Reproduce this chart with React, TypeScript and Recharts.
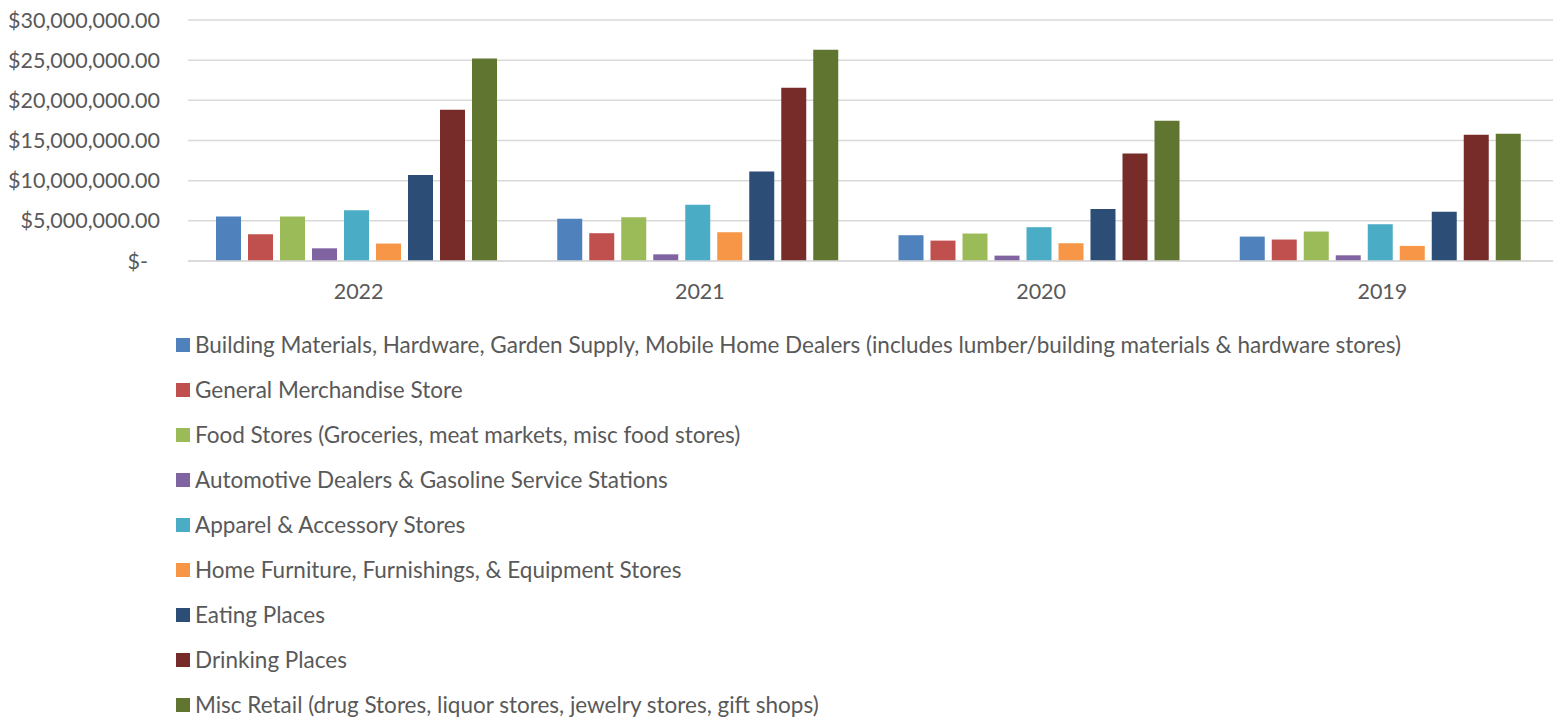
import React from "react";
import { BarChart, Bar, XAxis, YAxis, CartesianGrid, Legend } from "recharts";

const years = ["2022", "2021", "2020", "2019"];

const seriesNames = [
  "Building Materials, Hardware, Garden Supply, Mobile Home Dealers (includes lumber/building materials & hardware stores)",
  "General Merchandise Store",
  "Food Stores (Groceries, meat markets, misc food stores)",
  "Automotive Dealers & Gasoline Service Stations",
  "Apparel & Accessory Stores",
  "Home Furniture, Furnishings, & Equipment Stores",
  "Eating Places",
  "Drinking Places",
  "Misc Retail (drug Stores, liquor stores, jewelry stores, gift shops)",
];

const seriesColors = [
  "#4F81BD",
  "#C0504D",
  "#9BBB59",
  "#8064A2",
  "#4BACC6",
  "#F79646",
  "#2C4D75",
  "#772C2A",
  "#5F7530",
];

// values per series, in order of years (2022, 2021, 2020, 2019)
const buildingMaterials = [5540000, 5250000, 3210000, 3040000];
const generalMerchandise = [3330000, 3460000, 2540000, 2670000];
const foodStores = [5540000, 5460000, 3420000, 3670000];
const automotive = [1580000, 830000, 670000, 710000];
const apparel = [6330000, 7000000, 4210000, 4580000];
const homeFurniture = [2170000, 3580000, 2210000, 1880000];
const eatingPlaces = [10710000, 11130000, 6460000, 6130000];
const drinkingPlaces = [18830000, 21580000, 13380000, 15710000];
const miscRetail = [25200000, 26290000, 17460000, 15830000];

const seriesValues = [
  buildingMaterials,
  generalMerchandise,
  foodStores,
  automotive,
  apparel,
  homeFurniture,
  eatingPlaces,
  drinkingPlaces,
  miscRetail,
];

const yTicks = [0, 5000000, 10000000, 15000000, 20000000, 25000000, 30000000];

const data = years.map((year, i) => {
  const row: Record<string, string | number> = { year };
  seriesValues.forEach((vals, s) => {
    row[`s${s}`] = vals[i];
  });
  return row;
});

const TEXT = "#595959";
const FONT = "Lato, 'Open Sans', sans-serif";

const formatMoney = (v: number) =>
  v === 0
    ? "$-"
    : "$" +
      v.toLocaleString("en-US", {
        minimumFractionDigits: 2,
        maximumFractionDigits: 2,
      });

const YTick = (props: any) => {
  const { x, y, payload } = props;
  const v = payload.value as number;
  return (
    <text
      x={x - (v === 0 ? 12 : 0)}
      y={y}
      dy="0.35em"
      textAnchor="end"
      fill={TEXT}
      fontSize={21.5}
      fontFamily={FONT}
    >
      {formatMoney(v)}
    </text>
  );
};

const XTick = (props: any) => {
  const { x, y, payload } = props;
  return (
    <text
      x={x}
      y={y}
      dy={30}
      textAnchor="middle"
      fill={TEXT}
      fontSize={21.5}
      fontFamily={FONT}
    >
      {payload.value}
    </text>
  );
};

const LegendContent = () => (
  <div style={{ fontFamily: FONT, fontSize: 22.5, color: TEXT }}>
    {seriesNames.map((name, i) => (
      <div
        key={name}
        style={{
          height: 45,
          display: "flex",
          alignItems: "center",
          whiteSpace: "nowrap",
        }}
      >
        <span
          style={{
            display: "inline-block",
            width: 14,
            height: 14,
            background: seriesColors[i],
            marginRight: 5,
            flexShrink: 0,
          }}
        />
        <span>{name}</span>
      </div>
    ))}
  </div>
);

export default function App() {
  return (
    <div
      style={{
        position: "absolute",
        left: 0,
        top: 0,
        width: 1566,
        height: 722,
        background: "#fff",
        fontFamily: FONT,
      }}
    >
      <BarChart
        width={1566}
        height={722}
        data={data}
        margin={{ top: 20, right: 13, left: 0, bottom: 431 }}
        barCategoryGap={28}
        barGap={7}
      >
        <CartesianGrid
          vertical={false}
          stroke="#d9d9d9"
          strokeWidth={1.5}
        />
        <XAxis
          dataKey="year"
          tickLine={false}
          axisLine={{ stroke: "#d9d9d9", strokeWidth: 1.5 }}
          tick={<XTick />}
          height={30}
          interval={0}
        />
        <YAxis
          width={188}
          domain={[0, 30000000]}
          ticks={yTicks}
          tickLine={false}
          axisLine={false}
          tick={<YTick />}
          tickMargin={22}
          interval={0}
        />
        <Legend
          layout="vertical"
          align="center"
          verticalAlign="middle"
          content={<LegendContent />}
          wrapperStyle={{ left: 176, top: 322, width: 1380, height: 405 }}
        />
        {seriesNames.map((name, i) => (
          <Bar
            key={name}
            dataKey={`s${i}`}
            name={name}
            fill={seriesColors[i]}
            isAnimationActive={false}
          />
        ))}
      </BarChart>
    </div>
  );
}
